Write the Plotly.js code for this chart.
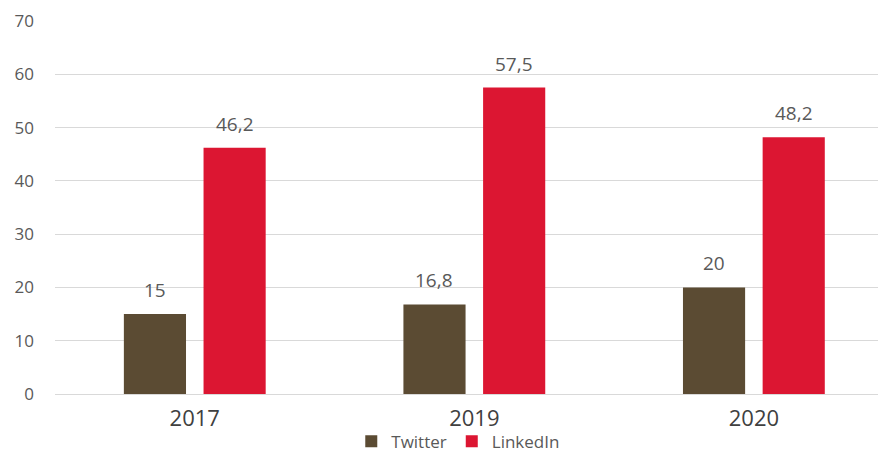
<!DOCTYPE html>
<html>
<head>
<meta charset="utf-8">
<script src="https://cdn.plot.ly/plotly-3.0.1.min.js"></script>
<style>html,body{margin:0;padding:0;background:#fff;}#chart{width:878px;height:452px;}</style>
</head>
<body>
<div id="chart"></div>
<script>
const years = ['2017', '2019', '2020'];
const twitter = [15, 16.8, 20];
const linkedin = [46.2, 57.5, 48.2];
const seriesNames = ['Twitter', 'LinkedIn'];
const yTicks = [0, 10, 20, 30, 40, 50, 60, 70];

const colors = ['#5B4B33', '#DC1632'];
const FONT = 'Open Sans, sans-serif';
const fmt = v => String(v).replace('.', ',');
const bargap = 0.43;

const traces = [twitter, linkedin].map((vals, k) => ({
  type: 'bar',
  name: seriesNames[k],
  x: years,
  y: vals,
  marker: {color: colors[k]},
  hoverinfo: 'skip'
}));

const annotations = [];
[twitter, linkedin].forEach((vals, k) => {
  const off = (k === 0 ? -1 : 1) * (1 - bargap) / 4;
  vals.forEach((v, i) => {
    annotations.push({
      x: i + off, y: v, xref: 'x', yref: 'y',
      text: fmt(v), showarrow: false,
      yanchor: 'middle', yshift: 24,
      font: {family: FONT, size: 19, color: '#595959'}
    });
  });
});

const layout = {
  width: 878, height: 452,
  margin: {l: 55, r: 0, t: 21, b: 58, autoexpand: false},
  paper_bgcolor: '#fff', plot_bgcolor: '#fff',
  barmode: 'group', bargap: bargap, bargroupgap: 0.22,
  showlegend: true,
  legend: {orientation: 'h', x: 0.49, xanchor: 'center', y: -0.128, yanchor: 'middle',
           itemwidth: 30, tracegroupgap: 0, bgcolor: 'rgba(0,0,0,0)',
           font: {family: FONT, size: 17, color: '#595959'}, itemsizing: 'constant'},
  xaxis: {type: 'category', range: [-0.5, 2.444], showgrid: false, zeroline: false,
          showline: false, ticks: '', ticklabelstandoff: 9,
          tickfont: {family: FONT, size: 22, color: '#404040'}, fixedrange: true},
  yaxis: {range: [0, 70], tickvals: yTicks, ticktext: yTicks.map(String), showgrid: true, gridcolor: '#D9D9D9',
          gridwidth: 1, zeroline: true, zerolinecolor: '#D9D9D9', zerolinewidth: 1, showline: false,
          ticks: '', ticklabelstandoff: 20, tickfont: {family: FONT, size: 17, color: '#595959'}, fixedrange: true},
  annotations: annotations
};

Plotly.newPlot('chart', traces, layout, {displayModeBar: false, staticPlot: true});
</script>
</body>
</html>
